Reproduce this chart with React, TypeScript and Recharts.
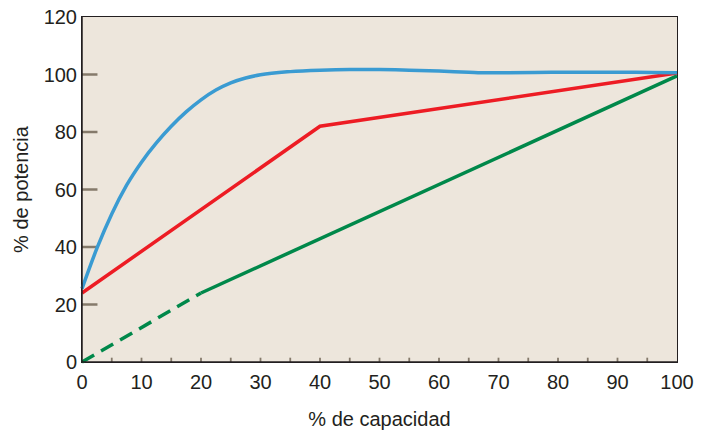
import React from "react";
import {
  LineChart,
  Line,
  XAxis,
  YAxis,
  Label,
} from "recharts";

// curva azul (potencia real frente a capacidad)
const blueCurve = [
  { x: 0, y: 25.5 },
  { x: 2.5, y: 39.5 },
  { x: 5, y: 51.5 },
  { x: 7.5, y: 61.5 },
  { x: 10, y: 69.5 },
  { x: 12.5, y: 76.2 },
  { x: 15, y: 82 },
  { x: 17.5, y: 87 },
  { x: 20, y: 91.2 },
  { x: 22.5, y: 94.6 },
  { x: 25, y: 97.1 },
  { x: 27.5, y: 98.8 },
  { x: 30, y: 99.9 },
  { x: 35, y: 101 },
  { x: 40, y: 101.5 },
  { x: 45, y: 101.7 },
  { x: 50, y: 101.7 },
  { x: 55, y: 101.5 },
  { x: 60, y: 101.2 },
  { x: 65, y: 100.8 },
  { x: 68, y: 100.6 },
  { x: 76, y: 100.7 },
  { x: 85, y: 100.8 },
  { x: 93, y: 100.8 },
  { x: 100, y: 100.6 },
];

const redLine = [
  { x: 0, y: 24 },
  { x: 40, y: 82 },
  { x: 100, y: 100.5 },
];

const greenDashed = [
  { x: 0, y: 0 },
  { x: 20, y: 24 },
];

const greenSolid = [
  { x: 20, y: 24 },
  { x: 100, y: 99.5 },
];

const xTicks = [0, 5, 10, 15, 20, 25, 30, 35, 40, 45, 50, 55, 60, 65, 70, 75, 80, 85, 90, 95, 100];
const yTicks = [0, 20, 40, 60, 80, 100, 120];

const FONT = "'Liberation Sans', Arial, Helvetica, sans-serif";
const TEXT = "#231f20";
const TICK = "#857a6b";

const W = 711;
const H = 430;
const M = { top: 17, right: 34, left: 0, bottom: 0 };
const Y_W = 82;
const X_H = 68;

// marcas interiores (largo en unidades de datos)
const Y_TICK_LEN = 2.6;
const X_TICK_LEN = 1.5;

const XTick = (props: any) => {
  const { x, y, payload } = props;
  const v = payload.value;
  if (v % 10 !== 0) return <g />;
  return (
    <text x={x} y={y} textAnchor="middle" fontSize={20} fontFamily={FONT} fill={TEXT}>
      {v}
    </text>
  );
};

const YTick = (props: any) => {
  const { x, y, payload } = props;
  return (
    <text x={x} y={y + 7} textAnchor="end" fontSize={20} fontFamily={FONT} fill={TEXT}>
      {payload.value}
    </text>
  );
};

export default function App() {
  const plotW = W - M.left - M.right - Y_W;
  const plotH = H - M.top - M.bottom - X_H;
  return (
    <div style={{ position: "absolute", left: 0, top: 0, width: W, height: H, background: "#fff" }}>
      {/* fondo y marco del área de trazado, detrás del svg */}
      <div
        style={{
          position: "absolute",
          left: M.left + Y_W - 0.75,
          top: M.top - 0.75,
          width: plotW,
          height: plotH,
          background: "#ede6dc",
          border: `1.5px solid ${TEXT}`,
        }}
      />
      <div style={{ position: "absolute", left: 0, top: 0 }}>
        <LineChart width={W} height={H} margin={M}>
          <XAxis
            type="number"
            dataKey="x"
            domain={[0, 100]}
            ticks={xTicks}
            interval={0}
            height={X_H}
            tickSize={0}
            tickMargin={27}
            tickLine={false}
            axisLine={{ stroke: TEXT, strokeWidth: 1.5 }}
            tick={<XTick />}
          >
            <Label
              value="% de capacidad"
              position="insideBottom"
              offset={4}
              style={{ fontSize: 20, fontFamily: FONT, fill: TEXT }}
            />
          </XAxis>
          <YAxis
            type="number"
            dataKey="y"
            domain={[0, 120]}
            ticks={yTicks}
            interval={0}
            width={Y_W}
            tickSize={0}
            tickMargin={5}
            tickLine={false}
            axisLine={{ stroke: TEXT, strokeWidth: 1.5 }}
            tick={<YTick />}
          >
            <Label
              value="% de potencia"
              angle={-90}
              position="center"
              dx={-20}
              style={{ fontSize: 20, fontFamily: FONT, fill: TEXT, textAnchor: "middle" }}
            />
          </YAxis>
          {/* marcas del eje y, hacia dentro */}
          {yTicks
            .filter((v) => v > 0 && v < 120)
            .map((v) => (
              <Line
                key={"yt" + v}
                data={[
                  { x: 0, y: v },
                  { x: Y_TICK_LEN, y: v },
                ]}
                dataKey="y"
                type="linear"
                stroke={TICK}
                strokeWidth={2.5}
                dot={false}
                activeDot={false}
                isAnimationActive={false}
              />
            ))}
          {/* marcas menores del eje x */}
          {xTicks
            .filter((v) => v > 0 && v < 100)
            .map((v) => (
              <Line
                key={"xt" + v}
                data={[
                  { x: v, y: 0 },
                  { x: v, y: X_TICK_LEN },
                ]}
                dataKey="y"
                type="linear"
                stroke={TICK}
                strokeWidth={1.8}
                dot={false}
                activeDot={false}
                isAnimationActive={false}
              />
            ))}
          <Line
            data={greenDashed}
            dataKey="y"
            type="linear"
            stroke="#00884a"
            strokeWidth={3.5}
            strokeDasharray="14 8"
            dot={false}
            isAnimationActive={false}
          />
          <Line
            data={greenSolid}
            dataKey="y"
            type="linear"
            stroke="#00884a"
            strokeWidth={3.5}
            dot={false}
            isAnimationActive={false}
          />
          <Line
            data={redLine}
            dataKey="y"
            type="linear"
            stroke="#ed1c24"
            strokeWidth={3.5}
            dot={false}
            isAnimationActive={false}
          />
          <Line
            data={blueCurve}
            dataKey="y"
            type="monotone"
            stroke="#3a9bd2"
            strokeWidth={3.5}
            dot={false}
            isAnimationActive={false}
          />
        </LineChart>
      </div>
    </div>
  );
}
